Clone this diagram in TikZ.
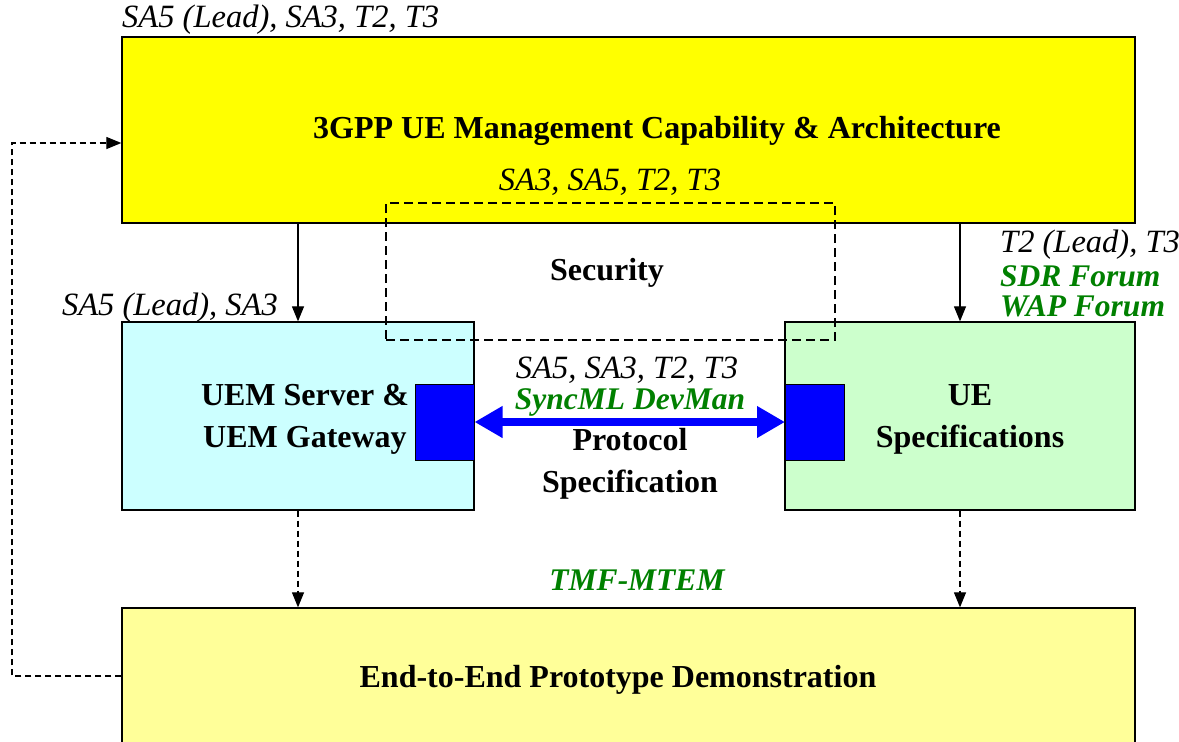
\documentclass[tikz,border=0pt]{standalone}
\usepackage{fontspec}
\setmainfont{Liberation Serif}
\newfontfamily\timesfont{Liberation Serif}
\usetikzlibrary{arrows.meta,calc}
\definecolor{archyellow}{HTML}{FFFF00}
\definecolor{demoyellow}{HTML}{FFFF99}
\definecolor{srvcyan}{HTML}{CCFFFF}
\definecolor{uegreen}{HTML}{CCFFCC}
\definecolor{orggreen}{HTML}{008000}
\definecolor{portblue}{HTML}{0000FF}
\tikzset{
  bigbox/.style={draw=black,line width=1.3pt,minimum width=1013pt,inner sep=0pt},
  midbox/.style={draw=black,line width=1.3pt,minimum height=188pt,inner sep=0pt},
  port/.style={draw=black,line width=1pt,fill=portblue,minimum width=59pt,minimum height=76pt,inner sep=0pt},
  title/.style={font=\timesfont\fontsize{32}{42}\selectfont\bfseries,align=center,inner sep=0pt},
  team/.style={font=\timesfont\fontsize{32.5}{32}\selectfont\itshape,inner sep=0pt},
  forum/.style={font=\timesfont\fontsize{31.5}{32}\selectfont\bfseries\itshape,text=orggreen,inner sep=0pt},
  flow/.style={line width=1.2pt,-{Triangle[length=15pt,width=12pt]}},
  feed/.style={flow,dash pattern=on 6pt off 4pt}
}
\begin{document}
\begin{tikzpicture}[x=1pt,y=-1pt]
  \useasboundingbox (0,0) rectangle (1179,742);
  \clip (0,0) rectangle (1179,742);
  % boxes
  \node[bigbox,fill=archyellow,minimum height=186pt] (arch) at (628.5,130) {};
  \node[bigbox,fill=demoyellow,minimum height=144pt] (demo) at (628.5,680) {};
  \node[midbox,fill=srvcyan,minimum width=352pt] (uem) at (298,416) {};
  \node[midbox,fill=uegreen,minimum width=350pt] (ue) at (960,416) {};
  \node[port] (srvport) at (444.5,422) {};
  \node[port] (ueport) at (815,422) {};
  \node[draw=black,line width=1.4pt,dash pattern=on 9pt off 5pt,minimum width=449pt,minimum height=137pt,inner sep=0pt] (sec) at (610.5,271.5) {};
  % texts
  \node[title] (archtitle) at (657,131) {3GPP UE Management Capability \& Architecture};
  \node[title] (demotitle) at (618,680) {End-to-End Prototype Demonstration};
  \node[title] (uemtitle) at (305,419) {UEM Server \&\\UEM Gateway};
  \node[title] (uetitle) at (970,419) {UE\\Specifications};
  \node[title] (sectitle) at (607,273) {Security};
  \node[title] (prototitle) at (630,464) {Protocol\\Specification};
  \node[team,anchor=west] (archteam) at (122,20) {SA5 (Lead), SA3, T2, T3};
  \node[team] (secteam) at (610,182) {SA3, SA5, T2, T3};
  \node[team,anchor=east] (uemteam) at (278,308) {SA5 (Lead), SA3};
  \node[team,anchor=west] (ueteam) at (1000,245) {T2 (Lead), T3};
  \node[forum,anchor=west] (sdr) at (1000,276) {SDR Forum};
  \node[forum,anchor=west] (wap) at (1000,306) {WAP Forum};
  \node[team] (prototeam) at (627,370) {SA5, SA3, T2, T3};
  \node[forum] (syncml) at (630,402) {SyncML DevMan};
  \node[forum] (tmf) at (637,580) {TMF-MTEM};
  % connectors
  \draw[flow] (arch.south -| uem.north) -- (uem.north);
  \draw[flow] (arch.south -| ue.north) -- (ue.north);
  \draw[feed] (uem.south) -- (demo.north -| uem.south);
  \draw[feed] (ue.south) -- (demo.north -| ue.south);
  \coordinate (fbbot) at ($(demo.west)+(0,-4)$);
  \coordinate (fbtop) at ($(arch.west)+(0,13)$);
  \draw[feed] (fbbot) -- (12,676) -- (12,143) -- (fbtop);
  \draw[portblue,line width=8pt,{Triangle[length=28pt,width=30pt]}-{Triangle[length=28pt,width=30pt]}] (srvport.east) -- (ueport.west);
\end{tikzpicture}
\end{document}
